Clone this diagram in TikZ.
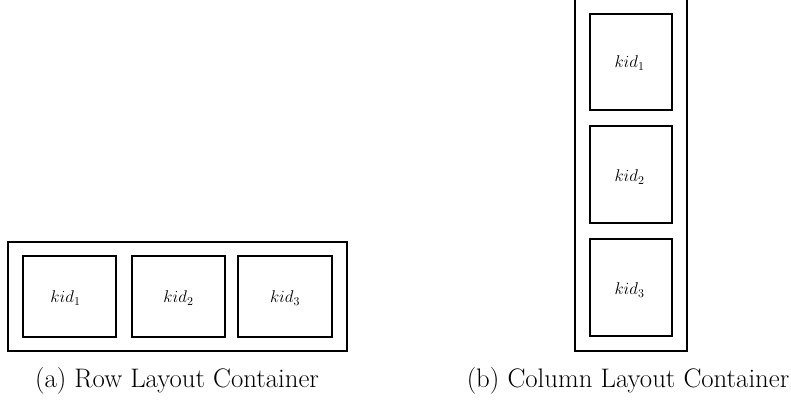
\RequirePackage{fix-cm}
\documentclass[tikz,border=0pt]{standalone}
\usepackage{fontspec}
\begin{document}
\begin{tikzpicture}[x=1pt,y=-1pt,
  outerbox/.style={draw=black,line width=2pt},
  kidbox/.style={draw=black,line width=2pt},
  kidlabel/.style={font=\fontsize{17}{19}\selectfont},
  caption/.style={font=\fontsize{26.8}{30}\selectfont}]
\useasboundingbox (0,0) rectangle (791,401);
% Row layout
\draw[outerbox] (8,242) rectangle (347,351);
\draw[kidbox] (23,256) rectangle (116,337);
\draw[kidbox] (132,256) rectangle (225,337);
\draw[kidbox] (238,256) rectangle (332,337);
\node[kidlabel] (r1) at (65.5,298) {$kid_1$};
\node[kidlabel] (r2) at (178.5,298) {$kid_2$};
\node[kidlabel] (r3) at (285,298) {$kid_3$};
\node[caption] (ca) at (177,381) {(a) Row Layout Container};
% Column layout
\draw[outerbox] (575,-3) rectangle (687,351);
\draw[kidbox] (590,14) rectangle (672,110);
\draw[kidbox] (590,126) rectangle (672,223);
\draw[kidbox] (590,239) rectangle (672,336);
\node[kidlabel] (c1) at (629.5,63) {$kid_1$};
\node[kidlabel] (c2) at (629.5,177) {$kid_2$};
\node[kidlabel] (c3) at (629.5,290) {$kid_3$};
\node[caption] (cb) at (628,381) {(b) Column Layout Container};
\end{tikzpicture}
\end{document}
